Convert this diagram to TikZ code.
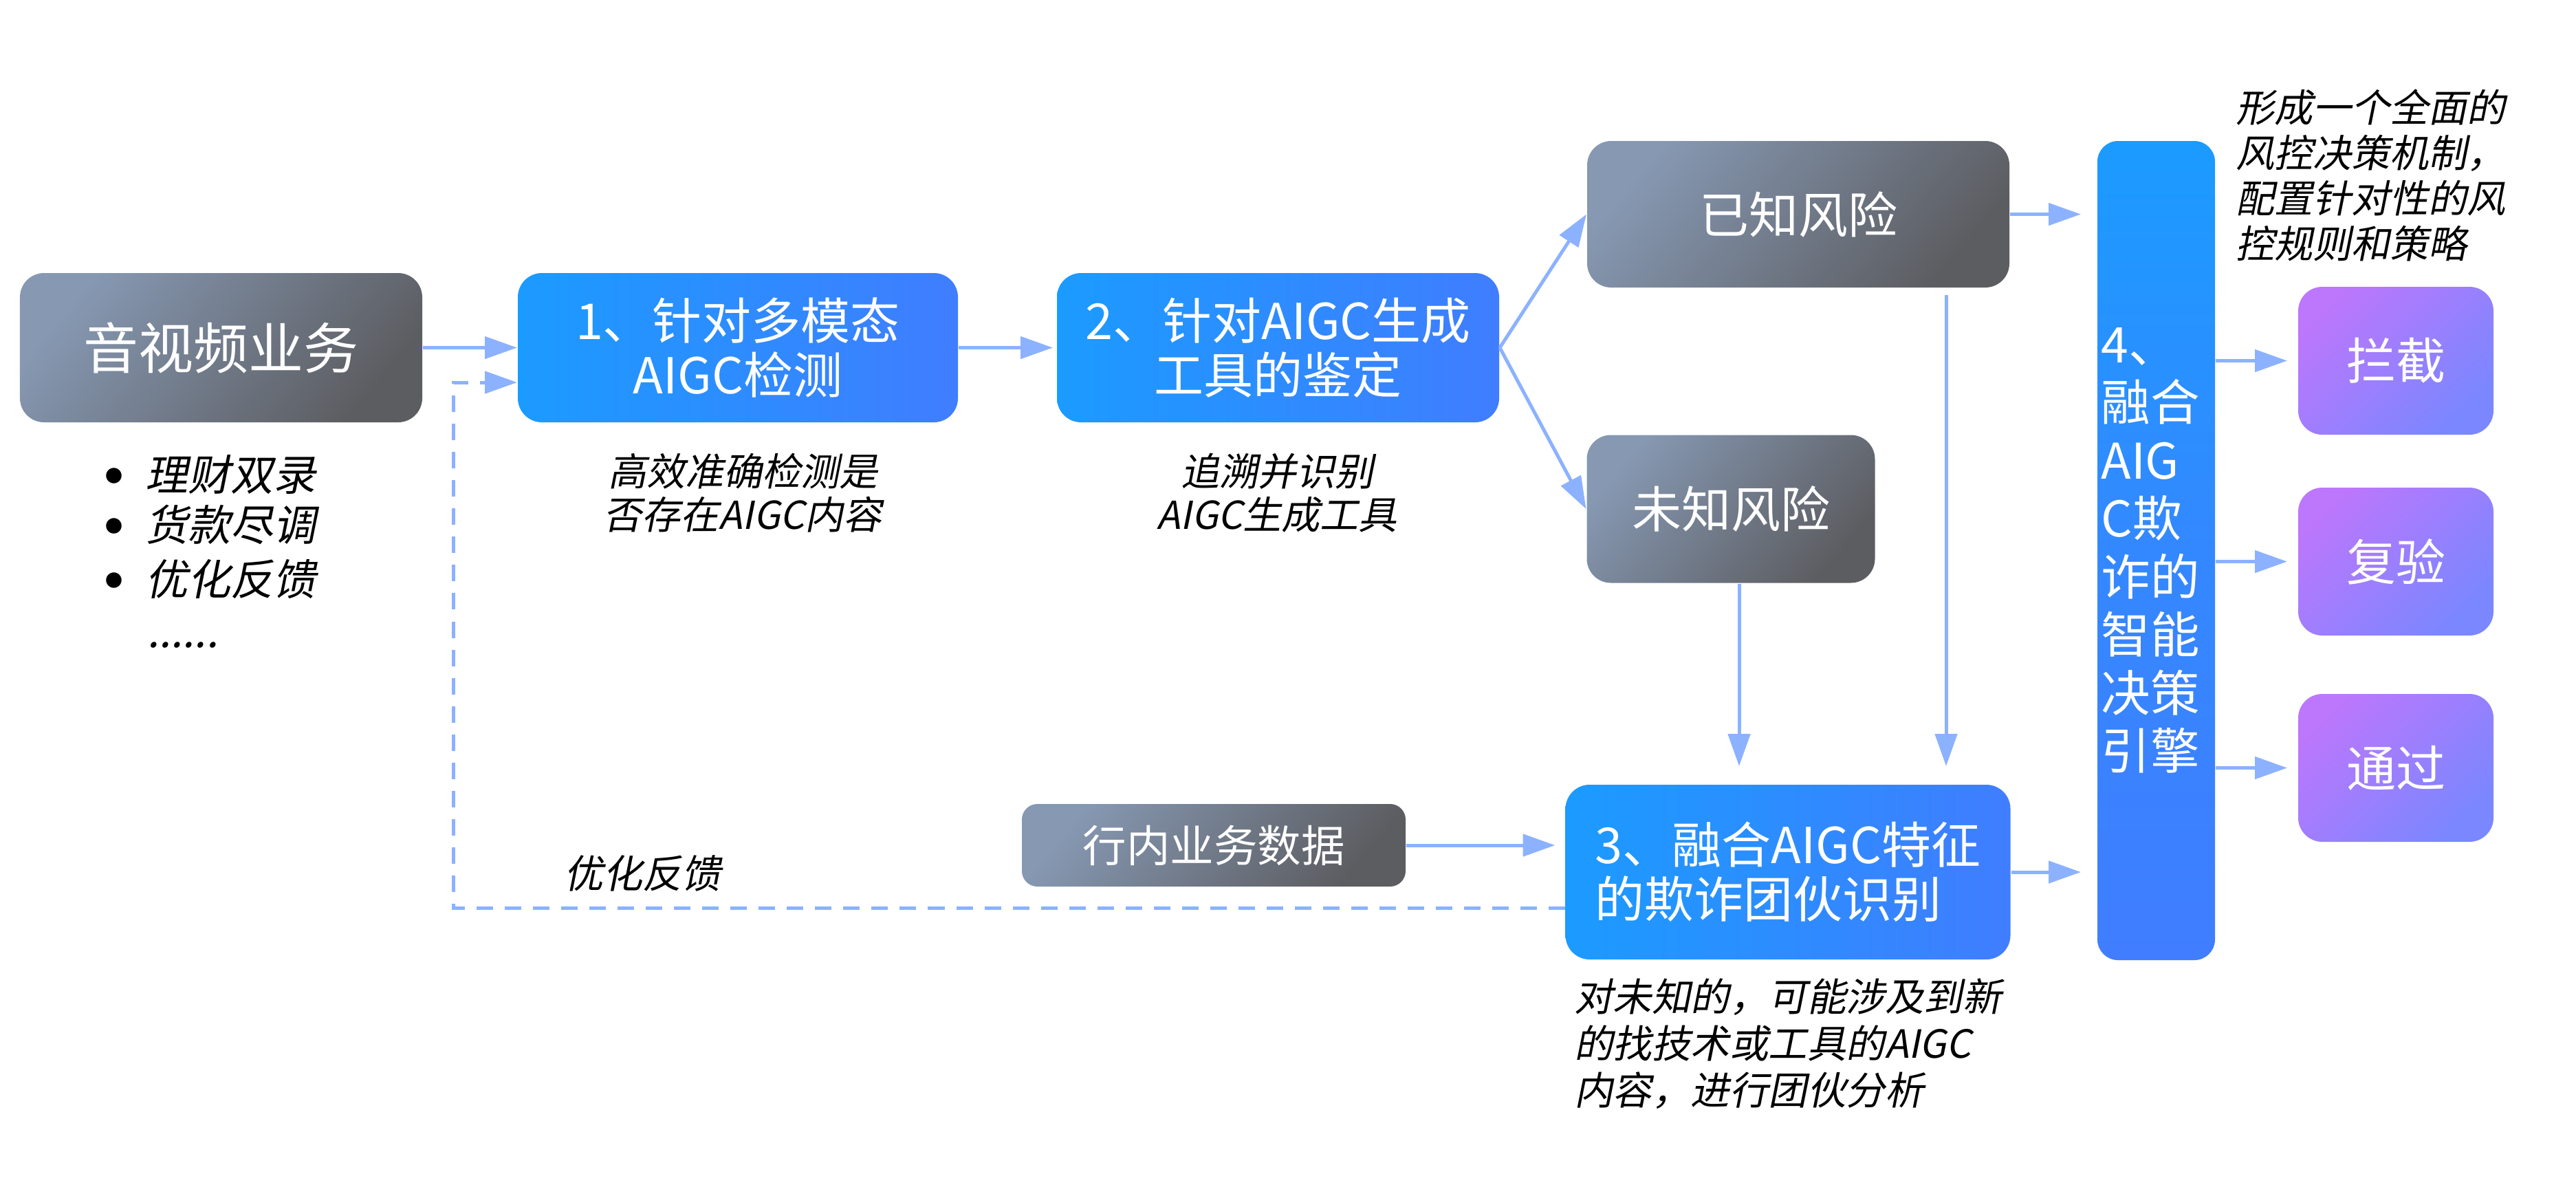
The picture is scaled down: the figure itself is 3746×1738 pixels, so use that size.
\documentclass[tikz,border=0pt]{standalone}
\usepackage{fontspec}
\setmainfont{Noto Sans CJK SC}
\newfontfamily\cjkit[FakeSlant=0.2]{Noto Sans CJK SC}
\usetikzlibrary{arrows.meta}
\definecolor{grayL}{RGB}{134,152,178}
\definecolor{grayR}{RGB}{92,93,97}
\definecolor{blueL}{RGB}{27,155,255}
\definecolor{blueR}{RGB}{64,125,255}
\definecolor{blueM}{RGB}{52,136,255}
\definecolor{purL}{RGB}{188,119,252}
\definecolor{purR}{RGB}{122,135,255}
\definecolor{arrowc}{RGB}{140,178,255}
\tikzset{
  basebox/.style={rounded corners=7pt, inner sep=0pt, text=white, draw=none},
  graybox/.style={basebox, top color=grayL, bottom color=grayR, shading angle=50},
  bluebox/.style={basebox, left color=blueL, right color=blueR},
  tallbox/.style={basebox, rounded corners=6pt, top color=blueL, bottom color=blueR, middle color=blueM},
  purbox/.style={basebox, top color=purL, bottom color=purR, shading angle=45},
  bigf/.style={font=\fontsize{14.4pt}{15.8pt}\selectfont},
  arr/.style={draw=arrowc, line width=1pt, -{Triangle[length=9.4pt,width=6.4pt]}},
  dasharr/.style={arr, dash pattern=on 4.8pt off 3.4pt},
  ann/.style={text=black, inner sep=0pt},
  bul/.style={ann, font=\fontsize{5pt}{6pt}\selectfont},
}
\begin{document}
\begin{tikzpicture}[x=0.2pt,y=-0.2pt]
\useasboundingbox (0,0) rectangle (3746,1738);

% main boxes
\node[graybox, minimum width=117pt, minimum height=43.4pt, font=\fontsize{16pt}{19pt}\selectfont] (av) at (321.5,505.5) {音视频业务};
\node[bluebox, bigf, minimum width=128pt, minimum height=43.4pt, align=center] (b1) at (1073,505.5) {1、针对多模态\\AIGC检测};
\node[bluebox, bigf, minimum width=128.6pt, minimum height=43.4pt, align=center] (b2) at (1858.5,505.5) {2、针对AIGC生成\\工具的鉴定};
\node[graybox, bigf, minimum width=122.8pt, minimum height=42.6pt] (k) at (2615,311.5) {已知风险};
\node[graybox, bigf, minimum width=83.8pt, minimum height=43pt] (u) at (2517,740) {未知风险};
\node[bluebox, bigf, minimum width=129.4pt, minimum height=50.8pt, align=left] (b3) at (2600,1268) {3、融合AIGC特征\\的欺诈团伙识别};
\node[graybox, rounded corners=4.5pt, minimum width=111.6pt, minimum height=24pt, font=\fontsize{12.7pt}{15pt}\selectfont] (hn) at (1765,1229) {行内业务数据};
\node[tallbox, minimum width=34.2pt, minimum height=238.2pt, text width=32pt, align=left, font=\fontsize{14.3pt}{16.9pt}\selectfont] (b4) at (3135.5,800.5) {4、\\融合\\AIG\\C欺\\诈的\\智能\\决策\\引擎};
\node[purbox, bigf, minimum width=56.8pt, minimum height=43pt] (lj) at (3484,524.5) {拦截};
\node[purbox, bigf, minimum width=56.8pt, minimum height=43pt] (fy) at (3484,816.5) {复验};
\node[purbox, bigf, minimum width=56.8pt, minimum height=43pt] (tg) at (3484,1116.5) {通过};

% connectors
\draw[arr] (av.east) -- (b1.west);
\draw[arr, shorten >=1pt] (b1.east) -- (b2.west);
\draw[arr] (b2.east) -- (k.west);
\draw[arr] (b2.east) -- (u.west);
\draw[arr, shorten >=4.6pt] (k.east) -- (k.east -| b4.west);
\coordinate (kx) at (2830,0);
\draw[arr, shorten <=2pt, shorten >=5.2pt] (k.south -| kx) -- (kx |- b3.north);
\draw[arr, shorten >=5.2pt] ([xshift=2.4pt]u.south) -- ([xshift=2.4pt]u.south |- b3.north);
\draw[arr, shorten >=2.8pt] (hn.east) -- (hn.east -| b3.west);
\draw[arr, shorten >=4.6pt] (b3.east) -- (b3.east -| b4.west);
\draw[arr, shorten >=3pt] (lj.west -| b4.east) -- (lj.west);
\draw[arr, shorten >=3pt] (fy.west -| b4.east) -- (fy.west);
\draw[arr, shorten >=3pt] (tg.west -| b4.east) -- (tg.west);
\coordinate (fb1) at (659,1320);
\coordinate (fb2) at (659,556);
\draw[dasharr] (b3.west |- fb1) -- (fb1) -- (fb2) -- (b1.west |- fb2);

% annotations
\node[bul] (d1) at (166,692) {●};
\node[bul] (d2) at (166,765) {●};
\node[bul] (d3) at (166,844) {●};
\node[ann, anchor=west, font=\cjkit\fontsize{12.4pt}{14pt}\selectfont] (t1) at (210,690) {理财双录};
\node[ann, anchor=west, font=\cjkit\fontsize{12.4pt}{14pt}\selectfont] (t2) at (210,763) {货款尽调};
\node[ann, anchor=west, font=\cjkit\fontsize{12.4pt}{14pt}\selectfont] (t3) at (210,842) {优化反馈};
\node[ann, anchor=base west, font=\cjkit\fontsize{12.4pt}{14pt}\selectfont] (t4) at (213,941) {......};

\node[ann, align=center, font=\cjkit\fontsize{11.2pt}{12.6pt}\selectfont] (n1) at (1080,716.5) {高效准确检测是\\否存在AIGC内容};
\node[ann, align=center, font=\cjkit\fontsize{11.2pt}{12.6pt}\selectfont] (n2) at (1857,716.5) {追溯并识别\\AIGC生成工具};
\node[ann, anchor=west, align=left, font=\cjkit\fontsize{11.2pt}{13.2pt}\selectfont] (n4) at (3250,254.5) {形成一个全面的\\风控决策机制，\\配置针对性的风\\控规则和策略};
\node[ann, anchor=west, align=left, font=\cjkit\fontsize{11.3pt}{13.6pt}\selectfont] (n3) at (2288,1518) {对未知的，可能涉及到新\\的找技术或工具的AIGC\\内容，进行团伙分析};
\node[ann, font=\cjkit\fontsize{11.4pt}{13pt}\selectfont] (fbt) at (934,1270) {优化反馈};
\end{tikzpicture}
\end{document}
